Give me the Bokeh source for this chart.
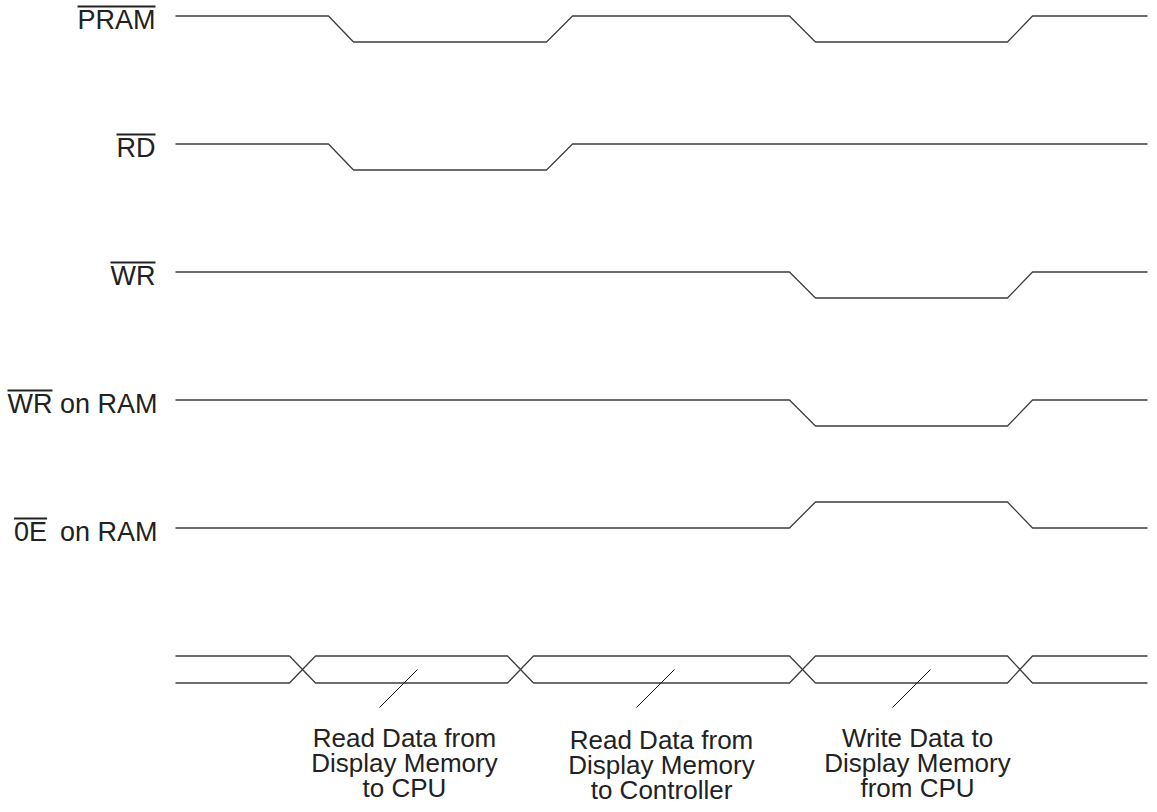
from bokeh.plotting import figure
from bokeh.models import Range1d
from bokeh.embed import file_html
from bokeh.resources import INLINE
from bokeh.core.properties import value

# ---------------- data ----------------
signal_names = ["PRAM", "RD", "WR", "WR on RAM", "0E\u2009 on RAM"]
overbar_len = [4, 2, 2, 2, 2]          # number of leading characters under the bar

pram_t = [0, 153, 178, 371, 397, 614, 640, 832, 857, 972]
pram_v = [1, 1, 0, 0, 1, 1, 0, 0, 1, 1]
rd_t = [0, 153, 178, 371, 397, 972]
rd_v = [1, 1, 0, 0, 1, 1]
wr_t = [0, 614, 640, 832, 857, 972]
wr_v = [1, 1, 0, 0, 1, 1]
wrram_t = [0, 614, 640, 832, 857, 972]
wrram_v = [1, 1, 0, 0, 1, 1]
oe_t = [0, 614, 640, 832, 857, 972]
oe_v = [0, 0, 1, 1, 0, 0]

bus_cross_start = [114, 332, 614, 832]
bus_cross_end = [140, 358, 640, 857]
bus_end = 972

notes = ["Read Data from\nDisplay Memory\nto CPU",
         "Read Data from\nDisplay Memory\nto Controller",
         "Write Data to\nDisplay Memory\nfrom CPU"]
note_t = [242, 499, 755]

waves_t = [pram_t, rd_t, wr_t, wrram_t, oe_t]
waves_v = [pram_v, rd_v, wr_v, wrram_v, oe_v]

# ---------------- layout ----------------
W, H = 1149, 804
X0 = 175            # x of t = 0
ROW0 = 15.5         # y of first rest line (from top)
PITCH = 128
AMP = 26
BUS_AMP = 27
LABEL_FS = 27
NOTE_FS = 26
TEXT_SHIFT = -9.5   # correction of rendered baseline
LABEL_RIGHTS = [155, 155, 155, 157, 157]
LINE_COL = "#3c3c3c"
TEXT_COL = "#222222"
FONT = "Liberation Sans"

p = figure(width=W, height=H, output_backend="svg", toolbar_location=None,
           x_range=Range1d(-X0, W - X0), y_range=Range1d(-H, 0),
           min_border=0)
p.axis.visible = False
p.grid.visible = False
p.outline_line_color = None
p.background_fill_color = "white"
p.border_fill_color = "white"

def Y(page_y):
    return -page_y

# waveforms
for i, (ts, vs) in enumerate(zip(waves_t, waves_v)):
    base = ROW0 + i * PITCH
    ys = [Y(base - (v - vs[0]) * AMP) for v in vs]
    p.line(ts, ys, line_color=LINE_COL, line_width=1.3)

# bus
bus_top = ROW0 + 5 * PITCH
bus_bot = bus_top + BUS_AMP
for start_level in (0, 1):
    cur = start_level
    xs, ys = [0], [cur]
    for a, b in zip(bus_cross_start, bus_cross_end):
        xs += [a, b]
        ys += [cur, 1 - cur]
        cur = 1 - cur
    xs.append(bus_end)
    ys.append(cur)
    p.line(xs, [Y(bus_top if v == 0 else bus_bot) for v in ys],
           line_color=LINE_COL, line_width=1.3)

# labels with overbars
ADV = {"P": 667, "R": 722, "A": 667, "M": 833, "D": 722, "W": 944, "0": 556,
       "E": 667, "o": 556, "n": 556, " ": 278, "\u2009": 200}
lab_x, lab_y = [], []
ob_x0, ob_x1, ob_y = [], [], []
for i, (name, k) in enumerate(zip(signal_names, overbar_len)):
    base = ROW0 + i * PITCH
    right = LABEL_RIGHTS[i] - X0
    lab_x.append(right)
    lab_y.append(Y(base + 13.5 + TEXT_SHIFT))
    full = sum(ADV.get(c, 556) for c in name) * LABEL_FS / 1000
    pre = sum(ADV.get(c, 556) for c in name[:k]) * LABEL_FS / 1000
    s = right - full
    ob_x0.append(s)
    ob_x1.append(s + pre)
    ob_y.append(Y(base - 9.5))

p.text(x=lab_x, y=lab_y, text=signal_names, text_align="right",
       text_baseline="alphabetic", text_font=value(FONT),
       text_font_size=f"{LABEL_FS}px", text_color=TEXT_COL)
p.segment(x0=ob_x0, y0=ob_y, x1=ob_x1, y1=ob_y, line_color=TEXT_COL, line_width=2.0)

# notes with leader lines
lead_top = bus_top + 13.5
lead_drop = 38
n_x, n_y, n_txt = [], [], []
for j, (txt, t) in enumerate(zip(notes, note_t)):
    p.line([t, t - lead_drop], [Y(lead_top), Y(lead_top + lead_drop)],
           line_color="#111111", line_width=1.0)
    first_base = 747 + (2 if j == 1 else 0)
    for li, line in enumerate(txt.split("\n")):
        n_x.append(t - 13)
        n_y.append(Y(first_base + li * 25 + TEXT_SHIFT))
        n_txt.append(line)

p.text(x=n_x, y=n_y, text=n_txt, text_align="center", text_baseline="alphabetic",
       text_font=value(FONT), text_font_size=f"{NOTE_FS}px", text_color=TEXT_COL)

open("out.html", "w").write(file_html(p, INLINE))
